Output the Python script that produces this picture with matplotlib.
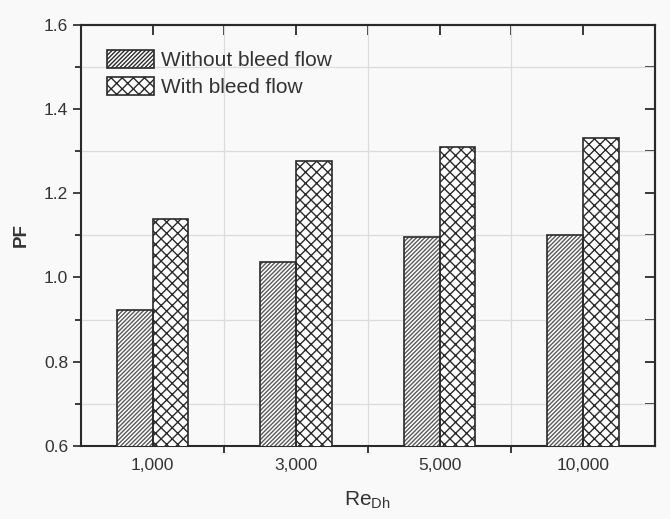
import matplotlib.pyplot as plt
import numpy as np
from matplotlib.ticker import MultipleLocator

# Data
categories = ["1,000", "3,000", "5,000", "10,000"]
pf_without = [0.923, 1.037, 1.095, 1.101]
pf_with = [1.139, 1.277, 1.309, 1.331]

plt.rcParams['font.family'] = ['Liberation Sans', 'DejaVu Sans']
plt.rcParams['hatch.linewidth'] = 1.0
txt = '#333333'
dark = '#2a2a2a'
bg = '#f9f9f9'

fig = plt.figure(figsize=(6.7, 5.19), dpi=100, facecolor=bg)
ax = fig.add_axes([0.1205, 0.1412, 0.857, 0.8106], facecolor=bg)

x = np.arange(len(categories))
width = 0.25

# hatched fill (lighter hatch lines for the diagonal set), then dark outline
ax.bar(x - width / 2, pf_without, width, color='white', edgecolor='#5a5a5a',
       hatch='////////', linewidth=0, label='Without bleed flow', zorder=3)
ax.bar(x + width / 2, pf_with, width, color='white', edgecolor=dark,
       hatch='xxx', linewidth=0, label='With bleed flow', zorder=3)
ax.bar(x - width / 2, pf_without, width, fill=False, edgecolor=dark, linewidth=1.2, zorder=4)
ax.bar(x + width / 2, pf_with, width, fill=False, edgecolor=dark, linewidth=1.2, zorder=4)

ax.set_xlim(-0.5, 3.5)
ax.set_ylim(0.6, 1.6)

# ticks: left/bottom outward
ax.set_xticks(x)
ax.set_xticklabels(categories)
ax.set_xticks(x[:-1] + 0.5, minor=True)
ax.yaxis.set_minor_locator(MultipleLocator(0.1))
ax.set_yticks(np.arange(0.6, 1.61, 0.2))
ax.set_yticklabels(['0.6', '0.8', '1.0', '1.2', '1.4', '1.6'])
ax.tick_params(axis='x', which='major', length=0, pad=9, labelsize=12.5, colors=txt)
ax.tick_params(axis='x', which='minor', direction='out', length=5, width=1.3, color=dark)
ax.tick_params(axis='y', which='major', direction='out', length=6, width=1.3,
               labelsize=12.5, colors=txt, pad=3)
ax.tick_params(axis='y', which='minor', direction='out', length=4, width=1.3, color=dark)

# grid only on minor positions
ax.grid(which='minor', color='#dcdcdc', linewidth=0.9, zorder=0)
ax.grid(which='major', visible=False)

for s in ax.spines.values():
    s.set_linewidth(1.5)
    s.set_color(dark)

# top and right: inward ticks
top = ax.secondary_xaxis('top')
top.set_xticks(x)
top.set_xticks(x[:-1] + 0.5, minor=True)
top.tick_params(which='both', direction='in', length=7, width=1.3, color=dark, labeltop=False)
top.spines['top'].set_linewidth(1.5)
top.spines['top'].set_color(dark)

right = ax.secondary_yaxis('right')
right.set_yticks(np.arange(0.6, 1.61, 0.2))
right.yaxis.set_minor_locator(MultipleLocator(0.1))
right.tick_params(which='both', direction='in', length=7, width=1.3, color=dark, labelright=False)
right.spines['right'].set_linewidth(1.5)
right.spines['right'].set_color(dark)

ax.set_ylabel('PF', fontsize=13.5, fontweight='bold', color=txt, labelpad=10)
ax.set_xlabel('Re$_{\\mathregular{Dh}}$', fontsize=15, color=txt, labelpad=12)

leg = ax.legend(loc='upper left', bbox_to_anchor=(0.045, 0.94), frameon=False,
                fontsize=15, handlelength=2.3, handleheight=0.95, handletextpad=0.3,
                labelspacing=0.3, borderpad=0, borderaxespad=0)
for t in leg.get_texts():
    t.set_color(txt)
for h in leg.legend_handles:
    h.set_linewidth(1.2)
    h.set_edgecolor(dark)

fig.savefig('out.png', dpi=100, facecolor=bg)
